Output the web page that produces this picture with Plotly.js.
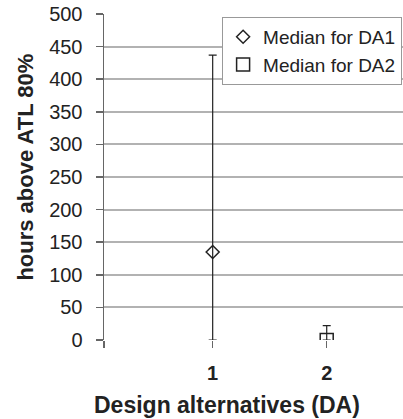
<!DOCTYPE html>
<html>
<head>
<meta charset="utf-8">
<script src="https://cdn.plot.ly/plotly-3.0.1.min.js"></script>
<style>
  html, body { margin: 0; padding: 0; background: #fff; overflow: hidden; }
  #wrap { width: 403px; height: 419px; overflow: hidden; }
  #chart { width: 440px; height: 419px; }
</style>
</head>
<body>
<div id="wrap"><div id="chart"></div></div>
<script>
// Data
const categories = [1, 2];
const seriesNames = ['Median for DA1', 'Median for DA2'];
const medians = [135, 0];
const upperValues = [437, 22];
const lowerValues = [0, 0];
const markerSymbols = ['diamond-open', 'square-open'];
const xTickLabels = ['1', '2'];
const yTickValues = [0, 50, 100, 150, 200, 250, 300, 350, 400, 450, 500];

const FONT = 'Liberation Sans, Arial, sans-serif';
const DARK = '#222';

const traces = categories.map((c, i) => ({
  type: 'scatter',
  mode: 'markers',
  name: seriesNames[i],
  x: [c],
  y: [medians[i]],
  marker: {
    symbol: markerSymbols[i],
    size: i === 0 ? 10 : 13,
    color: DARK,
    line: { width: 1.5, color: DARK }
  },
  error_y: {
    type: 'data',
    symmetric: false,
    array: [upperValues[i] - medians[i]],
    arrayminus: [medians[i] - lowerValues[i]],
    color: DARK,
    thickness: 1.2,
    width: 4
  },
  hoverinfo: 'x+y'
}));

// Plot area spans 104px .. 403px; figure is wider and clipped so the legend box runs to the edge
const layout = {
  width: 440,
  height: 419,
  margin: { l: 104, r: 37, t: 14, b: 79 },
  paper_bgcolor: '#fff',
  plot_bgcolor: '#fff',
  font: { family: FONT, color: DARK },
  showlegend: true,
  legend: {
    x: 0.395, y: 0.991, xanchor: 'left', yanchor: 'top',
    bgcolor: '#fff', bordercolor: '#999', borderwidth: 1,
    font: { family: FONT, size: 19, color: DARK },
    itemwidth: 30
  },
  xaxis: {
    range: [0.047, 2.669],
    tickvals: [0.047].concat(categories),
    ticktext: [''].concat(xTickLabels),
    ticks: 'outside', ticklen: 7, tickcolor: '#666', tickwidth: 1.5,
    tickfont: { family: FONT, size: 20, color: DARK, weight: 'bold' },
    ticklabelstandoff: 8,
    showgrid: false, zeroline: false, showline: false,
    fixedrange: true
  },
  yaxis: {
    range: [0, 500],
    tickvals: yTickValues,
    ticks: 'outside', ticklen: 7, tickcolor: '#666', tickwidth: 1.5,
    tickfont: { family: FONT, size: 20, color: DARK },
    ticklabelstandoff: 9,
    showgrid: true, gridcolor: '#b2b2b2', gridwidth: 2,
    zeroline: false,
    showline: true, linecolor: '#666', linewidth: 1.5,
    fixedrange: true
  },
  annotations: [
    {
      text: 'hours above ATL 80%', textangle: -90,
      xref: 'paper', yref: 'paper', x: -0.264, y: 0.529,
      xanchor: 'center', yanchor: 'middle', showarrow: false,
      font: { family: FONT, size: 22, color: DARK, weight: 'bold' }
    },
    {
      text: 'Design alternatives (DA)',
      xref: 'paper', yref: 'paper', x: 0.413, y: -0.2,
      xanchor: 'center', yanchor: 'middle', showarrow: false,
      font: { family: FONT, size: 23, color: DARK, weight: 'bold' }
    }
  ]
};

Plotly.newPlot('chart', traces, layout, { displayModeBar: false, staticPlot: true });
</script>
</body>
</html>
